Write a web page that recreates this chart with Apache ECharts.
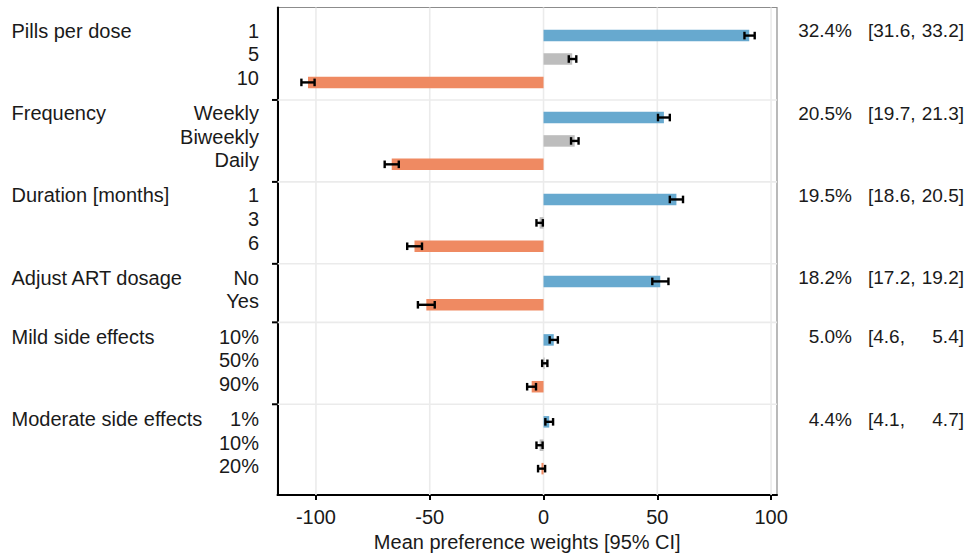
<!DOCTYPE html>
<html>
<head>
<meta charset="utf-8">
<script src="https://cdn.jsdelivr.net/npm/echarts@6/dist/echarts.min.js"></script>
<style>
  html, body { margin: 0; padding: 0; background: #fff; }
  #chart { width: 971px; height: 557px; }
</style>
</head>
<body>
<div id="chart"></div>
<script>
const groupNames = ['Pills per dose', 'Frequency', 'Duration [months]', 'Adjust ART dosage', 'Mild side effects', 'Moderate side effects']
const levelNames = [
  ['1', '5', '10'],
  ['Weekly', 'Biweekly', 'Daily'],
  ['1', '3', '6'],
  ['No', 'Yes'],
  ['10%', '50%', '90%'],
  ['1%', '10%', '20%']
]
const means = [
  [90.4, 12.6, -103.5],
  [52.9, 13.7, -66.7],
  [58.4, -1.7, -56.7],
  [51.3, -51.5],
  [4.5, 0.5, -5.2],
  [2.5, -1.7, -0.9]
]
const ciLower = [
  [88.3, 11.1, -106.4],
  [50.3, 12.1, -69.8],
  [55.5, -3.1, -59.9],
  [47.8, -55.2],
  [2.7, -0.6, -7.2],
  [0.8, -3.1, -2.4]
]
const ciUpper = [
  [92.8, 14.4, -100.6],
  [55.5, 15.4, -63.6],
  [61.3, -0.3, -53.4],
  [54.9, -47.8],
  [6.3, 1.7, -3.3],
  [4.2, -0.4, 0.7]
]
const importance = [32.4, 20.5, 19.5, 18.2, 5.0, 4.4]
const importanceLower = [31.6, 19.7, 18.6, 17.2, 4.6, 4.1]
const importanceUpper = [33.2, 21.3, 20.5, 19.2, 5.4, 4.7]
const xTicks = [-100, -50, 0, 50, 100]

const colorBest = '#67a9cf'
const colorMid = '#bdbdbd'
const colorWorst = '#ef8a62'
const font = "'Liberation Sans', Arial, sans-serif"
const textColor = '#1a1a1a'

// one row per level, groups separated by an extra half row
const rows = []
const separators = []
groupNames.forEach((g, gi) => {
  const n = levelNames[gi].length
  levelNames[gi].forEach((lv, li) => {
    const pos = rows.length + gi * 0.5
    if (li === 0 && gi > 0) separators.push(pos - 0.75)
    rows.push({
      group: gi,
      first: li === 0,
      label: lv,
      pos: pos,
      mean: means[gi][li],
      lo: ciLower[gi][li],
      hi: ciUpper[gi][li],
      color: li === 0 ? colorBest : (li === n - 1 ? colorWorst : colorMid)
    })
  })
})

const chart = echarts.init(document.getElementById('chart'), null, { renderer: 'svg' })

chart.setOption({
  backgroundColor: '#ffffff',
  animation: false,
  grid: {
    left: 277.5,
    top: 7.5,
    width: 499.5,
    height: 490.8,
    show: true,
    borderColor: '#8c8c8c',
    borderWidth: 1.2,
    backgroundColor: 'transparent'
  },
  xAxis: {
    type: 'value',
    min: -116.9,
    max: 102.6,
    name: 'Mean preference weights [95% CI]',
    nameLocation: 'middle',
    nameGap: 34,
    nameTextStyle: { fontSize: 20, fontFamily: font, color: textColor },
    axisLine: { show: true, onZero: false, lineStyle: { color: '#000', width: 2 } },
    axisTick: { show: true, customValues: xTicks, length: 5, lineStyle: { color: '#000', width: 2 } },
    axisLabel: {
      customValues: xTicks,
      margin: 12,
      fontSize: 20,
      fontFamily: font,
      color: textColor,
      formatter: v => (v % 50 === 0 ? String(v) : '')
    },
    splitLine: { show: false }
  },
  yAxis: {
    type: 'value',
    inverse: true,
    min: -1.2,
    max: 19.63,
    axisLine: { show: true, onZero: false, lineStyle: { color: '#000', width: 2 } },
    axisTick: { show: false },
    axisLabel: { show: false },
    splitLine: { show: false }
  },
  series: [
    {
      // vertical grid lines
      type: 'custom',
      silent: true,
      z: 1,
      encode: { x: 0, y: 1 },
      data: xTicks.map(v => [v, 0]),
      renderItem(params, api) {
        const cs = params.coordSys
        const x = api.coord([api.value(0), 0])[0]
        return {
          type: 'line',
          shape: { x1: x, y1: cs.y, x2: x, y2: cs.y + cs.height },
          style: { stroke: '#ebebeb', lineWidth: 1.6 }
        }
      }
    },
    {
      // group separators + ticks on the left axis
      type: 'custom',
      silent: true,
      z: 1,
      encode: { x: 0, y: 1 },
      data: separators.map(s => [0, s]),
      renderItem(params, api) {
        const cs = params.coordSys
        const y = api.coord([0, api.value(1)])[1]
        return {
          type: 'group',
          children: [
            { type: 'line', shape: { x1: cs.x, y1: y, x2: cs.x + cs.width, y2: y }, style: { stroke: '#ebebeb', lineWidth: 1.6 } },
            { type: 'line', shape: { x1: cs.x - 5.5, y1: y, x2: cs.x, y2: y }, style: { stroke: '#000', lineWidth: 2 }, z2: 10 }
          ]
        }
      }
    },
    {
      type: 'custom',
      z: 2,
      encode: { x: 0, y: 1 },
      data: rows.map(r => [r.mean, r.pos]),
      renderItem(params, api) {
        const r = rows[params.dataIndex]
        const p0 = api.coord([0, api.value(1)])
        const p1 = api.coord([api.value(0), api.value(1)])
        return {
          type: 'rect',
          shape: { x: Math.min(p0[0], p1[0]), y: p0[1] - 5.75, width: Math.abs(p1[0] - p0[0]), height: 11.5 },
          style: { fill: r.color }
        }
      }
    },
    {
      type: 'custom',
      z: 3,
      encode: { x: [0, 1], y: 2 },
      data: rows.map(r => [r.lo, r.hi, r.pos]),
      renderItem(params, api) {
        const a = api.coord([api.value(0), api.value(2)])
        const b = api.coord([api.value(1), api.value(2)])
        const st = { stroke: '#000', lineWidth: 2.4 }
        return {
          type: 'group',
          children: [
            { type: 'line', shape: { x1: a[0], y1: a[1], x2: b[0], y2: b[1] }, style: st },
            { type: 'line', shape: { x1: a[0], y1: a[1] - 3.8, x2: a[0], y2: a[1] + 3.8 }, style: st },
            { type: 'line', shape: { x1: b[0], y1: b[1] - 3.8, x2: b[0], y2: b[1] + 3.8 }, style: st }
          ]
        }
      }
    }
  ]
})

// row labels and the importance column, placed from the y scale
function txt(text, x, y, align, size) {
  return {
    type: 'text',
    x: x,
    y: y,
    silent: true,
    style: {
      text: text,
      fontSize: size,
      fontFamily: font,
      fill: textColor,
      align: align,
      verticalAlign: 'middle',
      textAlign: align,
      textVerticalAlign: 'middle'
    }
  }
}

const graphics = []
rows.forEach(r => {
  const y = chart.convertToPixel({ gridIndex: 0 }, [0, r.pos])[1] - 5 + r.pos * 0.14
  graphics.push(txt(r.label, 259, y, 'right', 20))
  if (r.first) {
    const gi = r.group
    graphics.push(txt(groupNames[gi], 11.5, y, 'left', 20))
    graphics.push(txt(importance[gi].toFixed(1) + '%', 852, y, 'right', 19))
    graphics.push(txt('[' + importanceLower[gi].toFixed(1) + ',', 868, y, 'left', 19))
    graphics.push(txt(importanceUpper[gi].toFixed(1) + ']', 964, y, 'right', 19))
  }
})
chart.setOption({ graphic: graphics })
</script>
</body>
</html>
